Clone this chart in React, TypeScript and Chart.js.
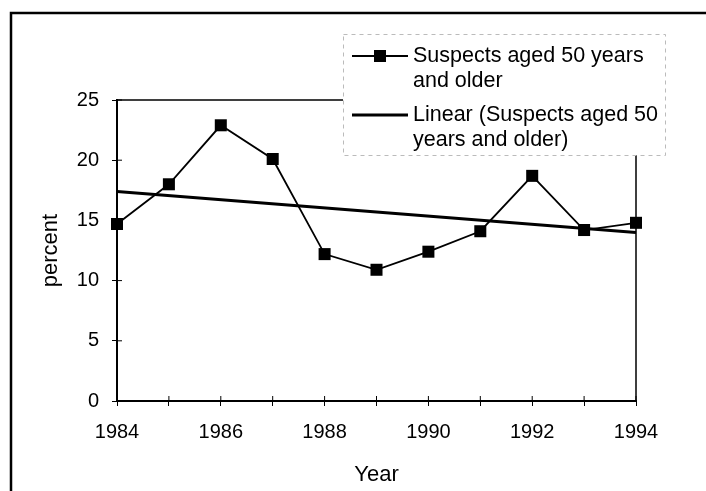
import React, { useEffect, useRef } from "react";
import { Chart, registerables } from "chart.js";

Chart.register(...registerables);

const years = [1984, 1985, 1986, 1987, 1988, 1989, 1990, 1991, 1992, 1993, 1994];
const suspectsPercent = [14.7, 18.0, 22.9, 20.1, 12.2, 10.9, 12.4, 14.1, 18.7, 14.2, 14.8];
const trendYears = [1984, 1994];
const trendValues = [17.4, 14.0];
const seriesLabel = ["Suspects aged 50 years", "and older"];
const trendLabel = ["Linear (Suspects aged 50", "years and older)"];
const yTicks = [0, 5, 10, 15, 20, 25];
const xAxisTitle = "Year";
const yAxisTitle = "percent";

const FONT = "'Liberation Sans', Arial, sans-serif";

const framePlugin = {
  id: "frame",
  beforeDatasetsDraw(chart: any) {
    const { ctx, chartArea } = chart;
    ctx.save();
    ctx.strokeStyle = "#000";
    ctx.lineWidth = 1.5;
    ctx.beginPath();
    ctx.moveTo(chartArea.left, chartArea.top);
    ctx.lineTo(chartArea.right, chartArea.top);
    ctx.lineTo(chartArea.right, chartArea.bottom);
    ctx.stroke();
    // inward tick marks
    ctx.lineWidth = 1;
    const xs = chart.scales.x;
    const ys = chart.scales.y;
    for (const t of xs.ticks) {
      const px = xs.getPixelForValue(t.value);
      ctx.beginPath();
      ctx.moveTo(px, chartArea.bottom);
      ctx.lineTo(px, chartArea.bottom - 5);
      ctx.stroke();
    }
    for (const t of ys.ticks) {
      const py = ys.getPixelForValue(t.value);
      ctx.beginPath();
      ctx.moveTo(chartArea.left, py);
      ctx.lineTo(chartArea.left + 5, py);
      ctx.stroke();
    }
    ctx.restore();
  },
  afterDraw(chart: any) {
    const { ctx } = chart;
    ctx.save();
    // outer frame (left + top)
    ctx.strokeStyle = "#000";
    ctx.lineWidth = 2.5;
    ctx.beginPath();
    ctx.moveTo(11, 495);
    ctx.lineTo(11, 13);
    ctx.lineTo(710, 13);
    ctx.stroke();

    // legend box
    const bx = 343, by = 34, bw = 322, bh = 121;
    ctx.fillStyle = "#fff";
    ctx.fillRect(bx, by, bw, bh);
    ctx.strokeStyle = "#bbb";
    ctx.lineWidth = 1;
    ctx.setLineDash([4, 4]);
    ctx.strokeRect(bx + 0.5, by + 0.5, bw, bh);
    ctx.setLineDash([]);

    const ds = chart.data.datasets;
    const items = [
      { lines: seriesLabel, y: 56, d: ds[0], marker: true },
      { lines: trendLabel, y: 115, d: ds[1], marker: false },
    ];
    ctx.font = `21.5px ${FONT}`;
    ctx.fillStyle = "#000";
    ctx.textBaseline = "middle";
    ctx.textAlign = "left";
    for (const it of items) {
      ctx.strokeStyle = it.d.borderColor;
      ctx.lineWidth = it.d.borderWidth;
      ctx.beginPath();
      ctx.moveTo(352, it.y);
      ctx.lineTo(408, it.y);
      ctx.stroke();
      if (it.marker) {
        ctx.fillStyle = it.d.pointBackgroundColor;
        ctx.fillRect(380 - 6, it.y - 6, 12, 12);
      }
      ctx.fillStyle = "#000";
      it.lines.forEach((ln: string, i: number) => {
        ctx.fillText(ln, 413, it.y + i * 25);
      });
    }
    ctx.restore();
  },
};

export default function App() {
  const ref = useRef<HTMLCanvasElement | null>(null);
  useEffect(() => {
    if (!ref.current) return;
    const chart = new Chart(ref.current, {
      type: "line",
      data: {
        datasets: [
          {
            label: seriesLabel.join(" "),
            data: years.map((y, i) => ({ x: y, y: suspectsPercent[i] })),
            borderColor: "#000",
            borderWidth: 1.8,
            pointStyle: "rect",
            pointRadius: 8.5,
            pointBackgroundColor: "#000",
            pointBorderColor: "#000",
            pointBorderWidth: 0,
            clip: false,
            tension: 0,
          },
          {
            label: trendLabel.join(" "),
            data: trendYears.map((y, i) => ({ x: y, y: trendValues[i] })),
            borderColor: "#000",
            borderWidth: 3,
            pointRadius: 0,
            clip: false,
            tension: 0,
          },
        ],
      },
      options: {
        animation: false,
        responsive: false,
        events: [],
        layout: { padding: { top: 100, right: 70, left: 0, bottom: 0 } },
        plugins: {
          legend: { display: false },
          tooltip: { enabled: false },
          title: { display: false },
        },
        scales: {
          x: {
            type: "linear",
            min: years[0],
            max: years[years.length - 1],
            afterFit: (s: any) => { s.height = 90; },
            afterBuildTicks: (s: any) => {
              s.ticks = years.map((v) => ({ value: v }));
            },
            border: { display: true, color: "#000", width: 2 },
            grid: { display: true, drawOnChartArea: false, drawTicks: true, tickLength: 5, color: "#000", lineWidth: 1 },
            ticks: {
              autoSkip: false,
              maxRotation: 0,
              padding: 14,
              color: "#000",
              font: { family: FONT, size: 20 },
              callback: (v: any) => (Number(v) % 2 === 0 ? String(v) : ""),
            },
            title: {
              display: true,
              text: xAxisTitle,
              color: "#000",
              font: { family: FONT, size: 22 },
              padding: { top: 0, bottom: 3 },
            },
          },
          y: {
            type: "linear",
            min: yTicks[0],
            max: yTicks[yTicks.length - 1],
            afterFit: (s: any) => { s.width = 117; },
            afterBuildTicks: (s: any) => {
              s.ticks = yTicks.map((v) => ({ value: v }));
            },
            border: { display: true, color: "#000", width: 2 },
            grid: { display: true, drawOnChartArea: false, drawTicks: true, tickLength: 5, color: "#000", lineWidth: 1 },
            ticks: {
              padding: 13,
              color: "#000",
              font: { family: FONT, size: 20 },
            },
            title: {
              display: true,
              text: yAxisTitle,
              color: "#000",
              font: { family: FONT, size: 22 },
              padding: { top: 38, bottom: 0 },
            },
          },
        },
      },
      plugins: [framePlugin],
    } as any);
    return () => chart.destroy();
  }, []);
  return (
    <div style={{ position: "fixed", left: 0, top: 0, width: 706, height: 491, overflow: "hidden", background: "#fff" }}>
      <canvas ref={ref} width={706} height={491} style={{ width: 706, height: 491, display: "block" }} />
    </div>
  );
}
